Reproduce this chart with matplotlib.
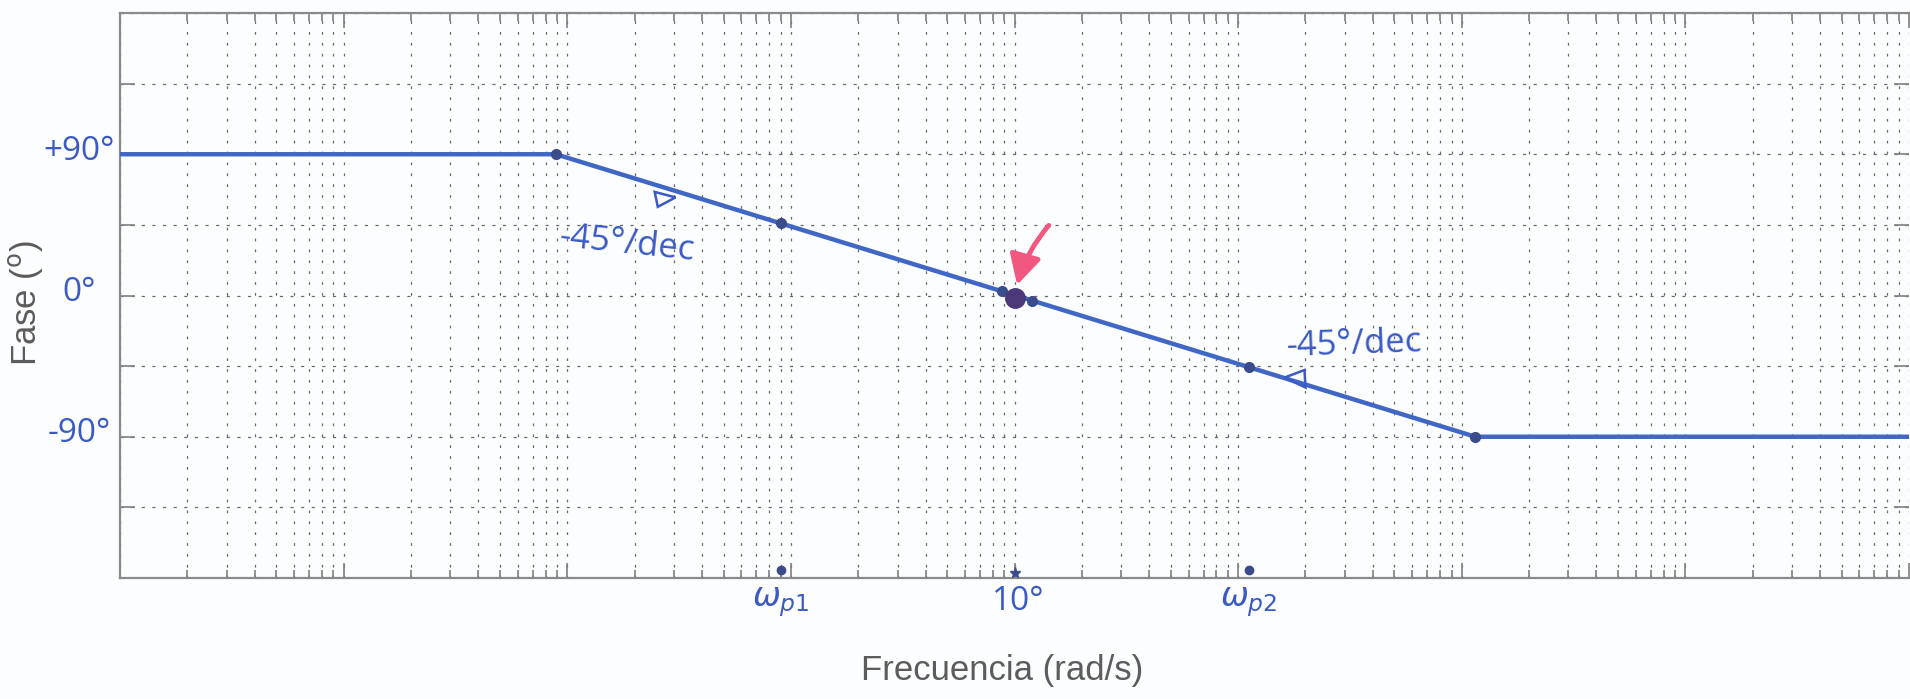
import numpy as np
import matplotlib
matplotlib.use('Agg')
import matplotlib.pyplot as plt
from matplotlib.patches import Polygon, FancyArrowPatch
from matplotlib.ticker import LogLocator, MultipleLocator, NullFormatter

# asymptotic phase plot
freq = [1e-4, 0.0089, 115, 1e4]
phase = [90, 90, -90, -90]
w_p1 = 0.09
w_p2 = 11.2
w_mid = [0.875, 1.20]
y_hand = [90, 0, -90]
y_hand_txt = ['+90°', '0°', '-90°']
x_hand = [w_p1, 1.0, w_p2]
x_hand_txt = [r'$\omega_{p1}$', '10°', r'$\omega_{p2}$']
slope_txt_pos = [(0.0185, 33), (33.1, -31)]
tri1 = [(0.0246, 66), (0.0254, 56.5), (0.0305, 62.5)]
tri2 = [(16.1, -52.3), (19.8, -47.5), (20.0, -58.6)]

blue = '#4067c6'
hand = '#3a5ac4'
gray = '#5c5c5c'
grid_c = '#6a6a6a'

def phase_at(w):
    return np.interp(np.log10(w), np.log10(freq), phase)

fig = plt.figure(figsize=(19.1, 6.99), dpi=100, facecolor='#fcfdfe')
ax = fig.add_axes([120/1910, 1-578/699, 1790/1910 - 0.0005, 565/699])
ax.set_facecolor('#fcfdfe')
ax.set_xscale('log')
ax.set_xlim(1e-4, 1e4)
ax.set_ylim(-180, 180)

# grid & ticks, matlab style
ax.xaxis.set_major_locator(LogLocator(base=10, numticks=100))
ax.xaxis.set_minor_locator(LogLocator(base=10, subs=np.arange(2, 10), numticks=100))
ax.xaxis.set_minor_formatter(NullFormatter())
ax.yaxis.set_major_locator(MultipleLocator(45))
ax.grid(True, which='both', axis='x', ls=(0, (2.2, 6.5)), lw=0.9, color=grid_c, zorder=0)
ax.grid(True, which='major', axis='y', ls=(0, (2.5, 6)), lw=0.9, color=grid_c, zorder=0)
ax.tick_params(which='both', direction='in', top=True, right=True, color='#808080',
               labelbottom=False, labelleft=False, width=1.2)
ax.tick_params(which='major', length=11)
ax.tick_params(which='minor', length=6)
for s in ['left', 'top', 'bottom']:
    ax.spines[s].set_color('#8a8a8a')
    ax.spines[s].set_linewidth(1.6)
ax.spines['right'].set_visible(False)

# the curve
ax.plot(freq, phase, color=blue, lw=3.2, zorder=3)
pts = [freq[1], w_p1, w_p2, freq[2]]
ax.plot(pts, [phase_at(w) for w in pts], 'o', color='#3b4c8c', ms=7, zorder=4)
ax.plot(w_mid, [phase_at(w) for w in w_mid], 'o', color='#3b4c8c', ms=7, zorder=4)
ax.plot([1.0], [phase_at(1.0) - 2], 'o', color='#4a3878', ms=14, zorder=5)

# marks on the frequency axis
ax.plot([w_p1, w_p2], [-175, -175], 'o', color='#3b4c8c', ms=6, clip_on=False, zorder=5)
ax.plot([1.0], [-177], '*', color='#3b4c8c', ms=8, clip_on=False, zorder=5)

# pink arrow
arr = FancyArrowPatch((1.45, 46), (1.02, 5), connectionstyle='arc3,rad=0.12',
                      arrowstyle='-|>,head_length=0.6,head_width=0.32', mutation_scale=30,
                      color='#f2587f', lw=3.5, zorder=6)
ax.add_patch(arr)

# slope triangles
for t in [tri1, tri2]:
    ax.add_patch(Polygon(t, closed=True, fill=False, ec=hand, lw=1.8, zorder=4))

# handwritten notes
hfont = dict(family='Open Sans', color=hand)
ytr = ax.get_yaxis_transform()
for v, t in zip(y_hand, y_hand_txt):
    ax.text(-0.023, v + 2, t, transform=ytr, ha='center', va='center', fontsize=24, **hfont)
xtr = ax.get_xaxis_transform()
for v, t, dx in zip(x_hand, x_hand_txt, [1.0, 1.04, 1.0]):
    ax.text(v * dx, -0.042, t, transform=xtr, ha='center', va='center', fontsize=24, **hfont)
ax.text(*slope_txt_pos[0], '-45°/dec', ha='center', va='center', fontsize=25, rotation=-6, **hfont)
ax.text(*slope_txt_pos[1], '-45°/dec', ha='center', va='center', fontsize=25, rotation=2, **hfont)

# printed axis labels
ax.set_xlabel('Frecuencia (rad/s)', fontsize=25, color=gray, family='Liberation Sans')
ax.set_ylabel(r'Fase ($^{\mathrm{o}}$)', fontsize=25, color=gray, family='Liberation Sans')
ax.xaxis.set_label_coords(0.493, -0.135)
ax.yaxis.set_label_coords(-0.042, 0.487)

fig.savefig('out.png', dpi=100, facecolor=fig.get_facecolor())
